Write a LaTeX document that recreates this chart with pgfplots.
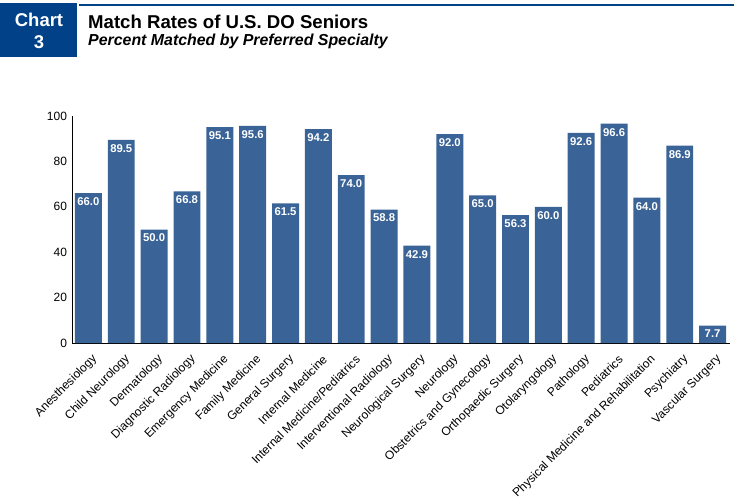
\documentclass[border=0pt]{standalone}
\usepackage{fontspec}
\setmainfont{Liberation Sans}
\usepackage{pgfplots}
\pgfplotsset{compat=1.18}
\definecolor{boxblue}{RGB}{0,65,135}
\definecolor{barblue}{RGB}{58,99,151}

\begin{document}
\begin{tikzpicture}
\path[use as bounding box] (0,0) rectangle (734bp,-499bp);
% header
\fill[boxblue] (0,-3bp) rectangle (77bp,-57bp);
\node[white, font=\fontsize{18.5bp}{22bp}\selectfont\bfseries, align=center] at (39bp,-31bp) {Chart\\3};
\fill[boxblue] (79bp,-3.8bp) rectangle (734bp,-6.4bp);
\node[anchor=base west, inner sep=0pt, font=\fontsize{18.6bp}{20bp}\selectfont\bfseries] at (88bp,-28.5bp) {Match Rates of U.S. DO Seniors};
\node[anchor=base west, inner sep=0pt, font=\fontsize{15.9bp}{17bp}\selectfont\bfseries\itshape] at (88bp,-45.5bp) {Percent Matched by Preferred Specialty};

\begin{axis}[
  scale only axis, width=658bp, height=227bp,
  anchor=south west, at={(72bp,-343bp)},
  ybar, bar width=0.82, bar shift=0pt,
  xmin=-0.5, xmax=19.53, ymin=0, ymax=100,
  axis x line*=bottom, axis y line*=left,
  axis line style={black, line width=1pt},
  xtick={0,...,19},
  xticklabels={Anesthesiology, Child Neurology, Dermatology, Diagnostic Radiology, Emergency Medicine, Family Medicine, General Surgery, Internal Medicine, Internal Medicine/Pediatrics, Interventional Radiology, Neurological Surgery, Neurology, Obstetrics and Gynecology, Orthopaedic Surgery, Otolaryngology, Pathology, Pediatrics, Physical Medicine and Rehabilitation, Psychiatry, Vascular Surgery},
  xticklabel style={xshift=9bp, yshift=-12bp, rotate=45, anchor=east, font=\fontsize{12bp}{14bp}\selectfont},
  ytick={0,20,...,100},
  yticklabel style={xshift=-1.5bp, font=\fontsize{12bp}{14bp}\selectfont},
  major tick length=0pt,
  /pgf/number format/assume math mode=true,
  nodes near coords={\pgfmathprintnumber[fixed, fixed zerofill, precision=1]{\pgfplotspointmeta}},
  nodes near coords style={anchor=north, yshift=-1bp, white, font=\fontsize{11.3bp}{13bp}\selectfont\bfseries},
]
\addplot[fill=barblue, draw=none] coordinates {
  (0,66.0)(1,89.5)(2,50.0)(3,66.8)(4,95.1)(5,95.6)(6,61.5)(7,94.2)(8,74.0)(9,58.8)
  (10,42.9)(11,92.0)(12,65.0)(13,56.3)(14,60.0)(15,92.6)(16,96.6)(17,64.0)(18,86.9)(19,7.7)
};
\end{axis}
\end{tikzpicture}
\end{document}
